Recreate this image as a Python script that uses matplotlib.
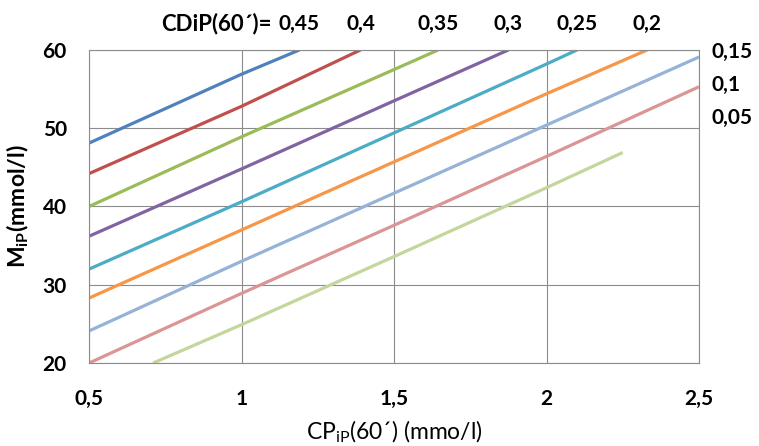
import matplotlib
matplotlib.use("Agg")
import matplotlib.pyplot as plt

plt.rcParams['font.family'] = ['Lato', 'DejaVu Sans']
plt.rcParams['mathtext.fontset'] = 'custom'
plt.rcParams['mathtext.rm'] = 'Lato'

# CDiP(60') curves: values (x = CPiP, y = MiP)
labels = ["0,45", "0,4", "0,35", "0,3", "0,25", "0,2", "0,15", "0,1", "0,05"]
x_045 = [0.5, 1.0, 1.19]
y_045 = [48.1, 56.9, 60.0]
x_040 = [0.5, 1.0, 1.39]
y_040 = [44.2, 52.8, 60.0]
x_035 = [0.5, 1.0, 1.5, 1.645]
y_035 = [40.0, 48.9, 57.5, 60.0]
x_030 = [0.5, 1.0, 1.5, 1.875]
y_030 = [36.2, 44.8, 53.5, 60.0]
x_025 = [0.5, 1.0, 1.5, 2.0, 2.1]
y_025 = [32.0, 40.6, 49.4, 58.2, 60.0]
x_020 = [0.5, 1.0, 1.5, 2.0, 2.33]
y_020 = [28.3, 37.0, 45.7, 54.4, 60.0]
x_015 = [0.5, 1.0, 1.5, 2.0, 2.5]
y_015 = [24.1, 33.0, 41.7, 50.4, 59.1]
x_010 = [0.5, 1.0, 1.5, 2.0, 2.5]
y_010 = [20.0, 28.9, 37.6, 46.4, 55.3]
x_005 = [0.71, 1.0, 1.5, 2.0, 2.25]
y_005 = [20.0, 24.9, 33.6, 42.4, 46.9]

xs = [x_045, x_040, x_035, x_030, x_025, x_020, x_015, x_010, x_005]
ys = [y_045, y_040, y_035, y_030, y_025, y_020, y_015, y_010, y_005]
colors = ["#4F81BD", "#C0504D", "#9BBB59", "#8064A2", "#4BACC6",
          "#F79646", "#95B3D7", "#D99694", "#C3D69B"]

xticks = [0.5, 1, 1.5, 2, 2.5]
xtick_labels = ["0,5", "1", "1,5", "2", "2,5"]
yticks = [20, 30, 40, 50, 60]

fig = plt.figure(figsize=(7.59, 4.46), dpi=100)
ax = fig.add_axes([0.1173, 0.186, 0.8037, 0.702])

for x, y, c in zip(xs, ys, colors):
    ax.plot(x, y, color=c, lw=2.3, solid_capstyle='butt')

ax.set_xlim(0.5, 2.5)
ax.set_ylim(20, 60)
ax.set_xticks(xticks)
ax.set_xticklabels(xtick_labels)
ax.set_yticks(yticks)
ax.grid(True, color='#8c8c8c', lw=0.8)
ax.set_axisbelow(True)
for s in ax.spines.values():
    s.set_color('#8c8c8c')
    s.set_linewidth(0.8)
ax.tick_params(length=0, labelsize=15)
for t in ax.get_xticklabels() + ax.get_yticklabels():
    t.set_fontweight('bold')
ax.tick_params(axis='x', pad=19)
ax.tick_params(axis='y', pad=16)

ax.set_xlabel(r"CP$_{\mathregular{iP}}$(60´) (mmo/l)", fontsize=16.5, labelpad=6)
ax.set_ylabel(r"M$_{\mathregular{iP}}$(mmol/l)", fontsize=16.5, fontweight='bold', labelpad=8)

# top labels where curves leave the chart
top = ax.get_xaxis_transform()
ax.text(0.30, 1.083, "CDiP(60´)=", transform=ax.transAxes, ha='right', va='center',
        fontsize=16, fontweight='bold')
for x, lab in zip(xs[:6], labels[:6]):
    ax.text(x[-1], 1.083, lab, transform=top, ha='center', va='center',
            fontsize=15, fontweight='bold')

# right-hand labels
right_pos = [59.8, 55.5, 51.3]
for yp, lab in zip(right_pos, labels[6:]):
    ax.text(1.02, yp, lab, transform=ax.get_yaxis_transform(), ha='left', va='center',
            fontsize=15, fontweight='bold')

fig.savefig("out.png", dpi=100)
